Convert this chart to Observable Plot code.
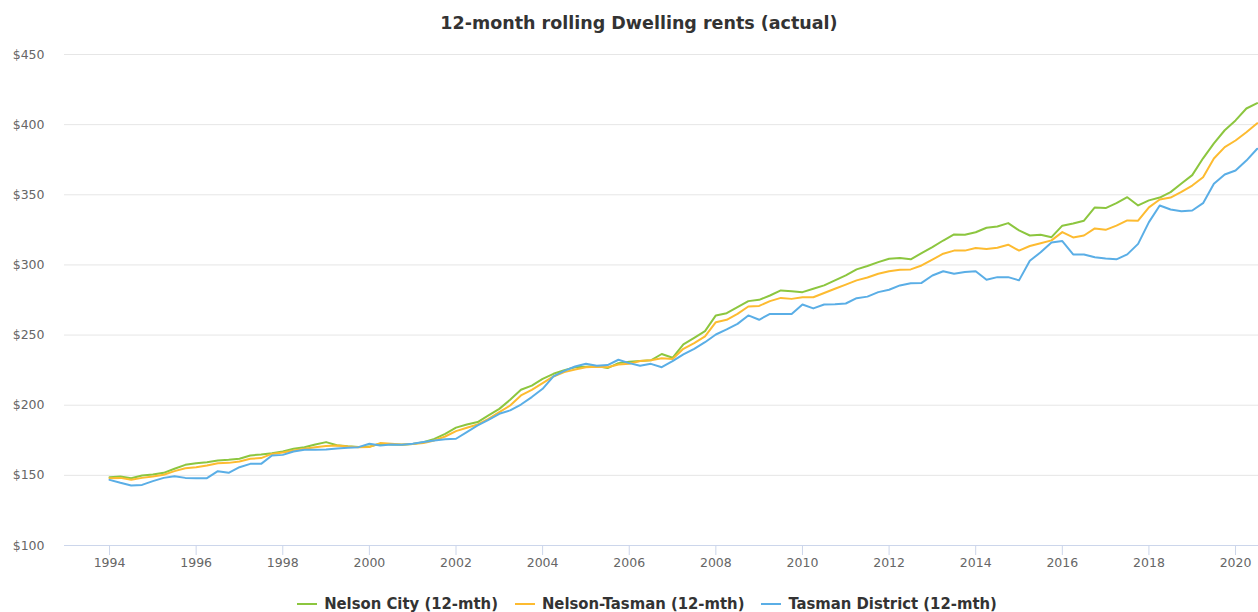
<!DOCTYPE html>
<html>
<head>
<meta charset="utf-8">
<script src="https://cdn.jsdelivr.net/npm/d3@7"></script>
<script src="https://cdn.jsdelivr.net/npm/@observablehq/plot@0.6"></script>
<style>
  html, body { margin: 0; padding: 0; background: #fff; overflow: hidden; }
  #wrap { position: relative; width: 1258px; height: 612px; font-family: "DejaVu Sans", sans-serif; }
  #title { position: absolute; left: 10px; top: 0; width: 1258px; height: 46px; line-height: 46px; text-align: center; font-weight: bold; font-size: 17.5px; color: #333; }
  #chart { position: absolute; left: 0; top: 44px; }
  #legend { position: absolute; left: 18px; top: 594px; width: 1258px; display: flex; justify-content: center; gap: 17px; font-family: "DejaVu Sans Condensed", "DejaVu Sans", sans-serif; font-stretch: condensed; font-size: 16.5px; font-weight: bold; color: #333; line-height: 20px; }
  .item { display: flex; align-items: center; gap: 7px; white-space: nowrap; }
  .sym { width: 20px; height: 2px; display: inline-block; }
</style>
</head>
<body>
<div id="wrap">
  <div id="title">12-month rolling Dwelling rents (actual)</div>
  <div id="chart"></div>
  <div id="legend"></div>
</div>
<script>
// Series names and colours
const seriesNames = ["Nelson City (12-mth)", "Nelson-Tasman (12-mth)", "Tasman District (12-mth)"];
const seriesColors = ["#8cc63f", "#fdbb30", "#5aaee6"];

// Quarterly observations, first quarter of 1994 onward
const startYear = 1994;
const nelsonCity = [
  148.7, 149.2, 148.0, 149.9, 150.6, 151.8, 154.7, 157.5, 158.7, 159.4, 160.6, 161.1,
  161.8, 164.2, 164.9, 165.8, 167.0, 168.9, 170.1, 172.0, 173.7, 171.5, 170.8, 170.3,
  170.5, 172.5, 172.0, 171.8, 172.3, 173.7, 176.0, 179.6, 184.0, 186.3, 188.0, 192.7,
  197.4, 203.9, 211.0, 214.0, 218.8, 222.4, 225.0, 227.0, 227.5, 228.0, 226.5, 230.0,
  231.0, 231.5, 232.0, 236.5, 233.8, 243.3, 248.0, 252.8, 264.0, 265.6, 269.9, 274.2,
  275.1, 278.2, 281.8, 281.3, 280.6, 283.0, 285.4, 289.0, 292.5, 296.8, 299.2, 302.0,
  304.4, 305.0, 304.0, 308.4, 312.7, 317.4, 321.7, 321.5, 323.3, 326.5, 327.4, 329.8,
  324.6, 321.0, 321.5, 319.8, 328.0, 329.5, 331.5, 341.0, 340.5, 344.0, 348.3, 342.4,
  346.0, 348.0, 351.9, 358.0, 364.0, 376.0, 386.6, 396.0, 403.0, 411.5, 415.3
];
const nelsonTasman = [
  148.0, 148.2, 146.8, 148.2, 149.2, 150.4, 153.0, 155.1, 155.8, 157.0, 158.7, 158.9,
  159.9, 161.8, 162.3, 165.3, 166.3, 167.7, 168.9, 170.1, 171.0, 171.3, 170.5, 170.0,
  170.2, 173.0, 172.5, 172.0, 172.3, 173.0, 174.9, 177.7, 181.5, 183.9, 186.3, 190.3,
  195.0, 199.8, 207.0, 211.0, 215.7, 220.5, 223.6, 225.5, 227.0, 227.5, 227.0, 229.0,
  229.5, 231.5, 232.0, 233.5, 233.0, 240.2, 244.2, 249.0, 259.2, 260.9, 265.1, 270.4,
  270.8, 274.2, 276.5, 275.8, 277.0, 277.0, 280.0, 283.0, 286.0, 289.0, 291.0, 293.7,
  295.5, 296.5, 296.8, 299.6, 303.7, 308.0, 310.2, 310.2, 312.0, 311.3, 312.2, 314.4,
  310.2, 313.5, 315.5, 317.5, 323.4, 319.6, 321.0, 326.0, 325.0, 328.0, 331.7, 331.5,
  341.0, 346.6, 348.0, 352.0, 356.6, 362.5, 375.9, 384.0, 388.7, 394.6, 401.0
];
const tasmanDistrict = [
  146.8, 144.7, 142.8, 143.2, 145.9, 148.2, 149.4, 148.2, 148.0, 148.0, 153.0, 151.8,
  155.8, 158.2, 158.2, 164.2, 164.6, 167.0, 168.2, 168.2, 168.4, 169.2, 169.7, 170.1,
  172.5, 171.3, 172.0, 171.8, 172.5, 173.7, 174.9, 175.8, 176.1, 180.8, 185.6, 189.6,
  193.9, 196.3, 200.5, 205.8, 211.7, 220.5, 224.5, 227.6, 229.5, 228.1, 228.6, 232.4,
  230.0, 228.1, 229.5, 227.1, 231.4, 236.2, 240.2, 244.9, 250.4, 254.0, 258.0, 264.0,
  260.9, 265.1, 265.1, 265.0, 271.8, 269.0, 271.8, 272.0, 272.5, 276.3, 277.4, 280.6,
  282.3, 285.4, 287.0, 287.2, 292.5, 295.5, 293.7, 295.0, 295.5, 289.4, 291.3, 291.3,
  289.0, 303.0, 309.0, 316.0, 317.0, 307.5, 307.5, 305.5, 304.5, 304.0, 307.5, 315.0,
  330.5, 342.4, 339.5, 338.3, 338.8, 344.0, 357.8, 364.5, 367.3, 374.4, 382.8
];

// Axis ticks
const xTicks = [1994, 1996, 1998, 2000, 2002, 2004, 2006, 2008, 2010, 2012, 2014, 2016, 2018, 2020];
const yTicks = [100, 150, 200, 250, 300, 350, 400, 450];

const seriesValues = [nelsonCity, nelsonTasman, tasmanDistrict];
const rows = [];
seriesValues.forEach((vals, s) => {
  vals.forEach((v, i) => rows.push({ series: seriesNames[s], year: startYear + i / 4, value: v }));
});

const chart = Plot.plot({
  width: 1258,
  height: 531,
  marginLeft: 64,
  marginRight: 0,
  marginTop: 10,
  marginBottom: 30,
  style: { fontFamily: "DejaVu Sans, sans-serif", fontSize: "12.5px", background: "white", overflow: "visible" },
  x: { domain: [1992.96, 2020.53], label: null },
  y: { domain: [100, 450], label: null },
  color: { domain: seriesNames, range: seriesColors },
  marks: [
    Plot.gridY(yTicks, { stroke: "#e6e6e6", strokeOpacity: 1 }),
    Plot.ruleY([100], { stroke: "#ccd6eb", strokeOpacity: 1 }),
    Plot.axisY(yTicks, { tickSize: 0, tickPadding: 20, tickFormat: d => "$" + d, fill: "#666", fontSize: 12.5 }),
    Plot.axisX(xTicks, { tickSize: 10, tickPadding: 3, tickFormat: d3.format("d"), stroke: "#ccd6eb", strokeOpacity: 1, fill: "#666", fontSize: 12.5 }),
    Plot.lineY(rows, { x: "year", y: "value", z: "series", stroke: "series", strokeWidth: 2, curve: "linear" })
  ]
});
document.getElementById("chart").appendChild(chart);

const legend = document.getElementById("legend");
seriesNames.forEach((name, i) => {
  const item = document.createElement("div");
  item.className = "item";
  const sym = document.createElement("span");
  sym.className = "sym";
  sym.style.background = seriesColors[i];
  const label = document.createElement("span");
  label.textContent = name;
  item.appendChild(sym);
  item.appendChild(label);
  legend.appendChild(item);
});
</script>
</body>
</html>
